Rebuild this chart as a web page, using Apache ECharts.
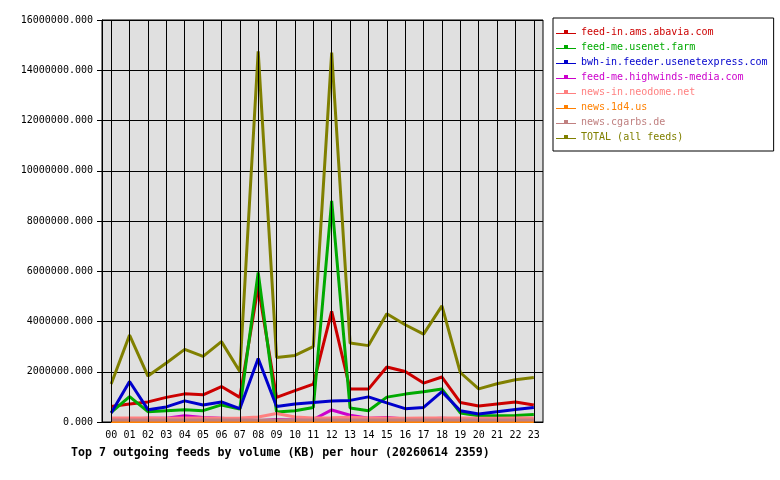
<!DOCTYPE html>
<html>
<head>
<meta charset="utf-8">
<script src="https://cdn.jsdelivr.net/npm/echarts@6/dist/echarts.min.js"></script>
<style>
  html, body { margin: 0; padding: 0; background: #fff; }
  #main { width: 780px; height: 480px; }
</style>
</head>
<body>
<div id="main"></div>
<script>
var hours = ['00','01','02','03','04','05','06','07','08','09','10','11',
             '12','13','14','15','16','17','18','19','20','21','22','23'];

var feedNames = [
  'feed-in.ams.abavia.com',
  'feed-me.usenet.farm',
  'bwh-in.feeder.usenetexpress.com',
  'feed-me.highwinds-media.com',
  'news-in.neodome.net',
  'news.1d4.us',
  'news.cgarbs.de',
  'TOTAL (all feeds)'
];
var feedColors = ['#cc0000', '#00aa00', '#0000cc', '#cc00cc', '#ff8080', '#ff8000', '#c08080', '#808000'];

// values in KB
var abavia = [620000, 720000, 800000, 980000, 1120000, 1080000, 1410000, 980000, 5400000, 980000, 1250000, 1510000,
              4400000, 1310000, 1310000, 2190000, 2010000, 1550000, 1790000, 780000, 640000, 720000, 800000, 680000];
var usenetFarm = [380000, 1010000, 410000, 450000, 490000, 450000, 680000, 520000, 5950000, 400000, 450000, 580000,
                  8800000, 560000, 450000, 990000, 1110000, 1200000, 1310000, 360000, 250000, 250000, 260000, 300000];
var usenetExpress = [360000, 1610000, 490000, 600000, 840000, 680000, 800000, 530000, 2530000, 620000, 720000, 780000,
                     840000, 860000, 1000000, 760000, 530000, 580000, 1210000, 450000, 320000, 410000, 500000, 580000];
var highwinds = [80000, 120000, 150000, 150000, 250000, 180000, 150000, 100000, 50000, 100000, 80000, 100000,
                 480000, 270000, 150000, 180000, 120000, 120000, 150000, 120000, 80000, 80000, 80000, 80000];
var neodome = [160000, 160000, 160000, 150000, 160000, 160000, 150000, 160000, 200000, 340000, 200000, 160000,
               170000, 190000, 160000, 160000, 150000, 160000, 160000, 160000, 150000, 150000, 160000, 160000];
var news1d4 = [20000, 20000, 20000, 20000, 20000, 20000, 20000, 20000, 20000, 20000, 20000, 20000,
               20000, 20000, 20000, 20000, 20000, 20000, 20000, 20000, 20000, 20000, 20000, 20000];
var cgarbs = [80000, 80000, 80000, 80000, 80000, 80000, 80000, 80000, 80000, 80000, 80000, 80000,
              80000, 80000, 80000, 80000, 80000, 80000, 80000, 80000, 80000, 80000, 80000, 80000];
var total = [1510000, 3460000, 1830000, 2350000, 2890000, 2610000, 3200000, 2010000, 14750000, 2570000, 2650000, 3000000,
             14700000, 3140000, 3040000, 4310000, 3870000, 3500000, 4620000, 1970000, 1320000, 1520000, 1680000, 1770000];

var feedValues = [abavia, usenetFarm, usenetExpress, highwinds, neodome, news1d4, cgarbs, total];

var mono = 'DejaVu Sans Mono';
var chartDom = document.getElementById('main');
var myChart = echarts.init(chartDom);

// legend icon: a short line with a little box in the middle
var legendIcon = 'path://M0,7L8,7L8,4L12,4L12,7L20,7L20,8L12,8L12,8L8,8L8,8L0,8Z' +
                 'M9,5L11,5L11,7L9,7Z';

var series = feedNames.map(function (name, i) {
  return {
    name: name,
    type: 'line',
    data: feedValues[i],
    showSymbol: false,
    z: 3,
    itemStyle: { color: feedColors[i] },
    lineStyle: { color: feedColors[i], width: 3 }
  };
});

// vertical grid lines through every hour, kept under the feed lines
series.unshift({
  name: 'grid',
  type: 'line',
  data: [],
  z: 1,
  silent: true,
  markLine: {
    silent: true,
    symbol: 'none',
    label: { show: false },
    animation: false,
    lineStyle: { color: '#000', type: 'solid', width: 1 },
    data: hours.map(function (h) { return { xAxis: h }; })
  }
});

var option = {
  animation: false,
  textStyle: { fontFamily: mono },
  title: {
    text: 'Top 7 outgoing feeds by volume (KB) per hour (20260614 2359)',
    left: 71,
    top: 447,
    padding: 0,
    textStyle: { fontFamily: mono, fontWeight: 'bold', fontSize: 11.6, color: '#000' }
  },
  legend: {
    orient: 'vertical',
    left: 553,
    top: 18,
    padding: [9, 6, 9, 3],
    itemWidth: 20,
    itemHeight: 10,
    itemGap: 5,
    icon: legendIcon,
    itemStyle: { borderWidth: 0 },
    backgroundColor: '#fff',
    borderColor: '#000',
    borderWidth: 1,
    borderRadius: 0,
    data: feedNames.map(function (name, i) {
      return { name: name, textStyle: { color: feedColors[i] } };
    }),
    textStyle: { fontFamily: mono, fontSize: 10 }
  },
  grid: {
    left: 102,
    right: 237,
    top: 20,
    bottom: 58,
    show: true,
    backgroundColor: '#e0e0e0',
    borderColor: '#000',
    borderWidth: 1
  },
  xAxis: {
    type: 'category',
    data: hours,
    boundaryGap: true,
    axisLine: { lineStyle: { color: '#000' } },
    axisTick: { alignWithLabel: true, interval: 0, length: 5, lineStyle: { color: '#000' } },
    axisLabel: { interval: 0, color: '#000', fontFamily: mono, fontSize: 10, margin: 8 },
    splitLine: { show: false }
  },
  yAxis: {
    type: 'value',
    min: 0,
    max: 16000000,
    interval: 2000000,
    axisLine: { show: true, lineStyle: { color: '#000' } },
    axisTick: { show: true, length: 5, lineStyle: { color: '#000' } },
    axisLabel: {
      color: '#000',
      fontFamily: mono,
      fontSize: 10,
      margin: 9,
      formatter: function (v) { return v.toFixed(3); }
    },
    splitLine: { show: true, lineStyle: { color: '#000', width: 1 } }
  },
  series: series
};

myChart.setOption(option);
</script>
</body>
</html>
